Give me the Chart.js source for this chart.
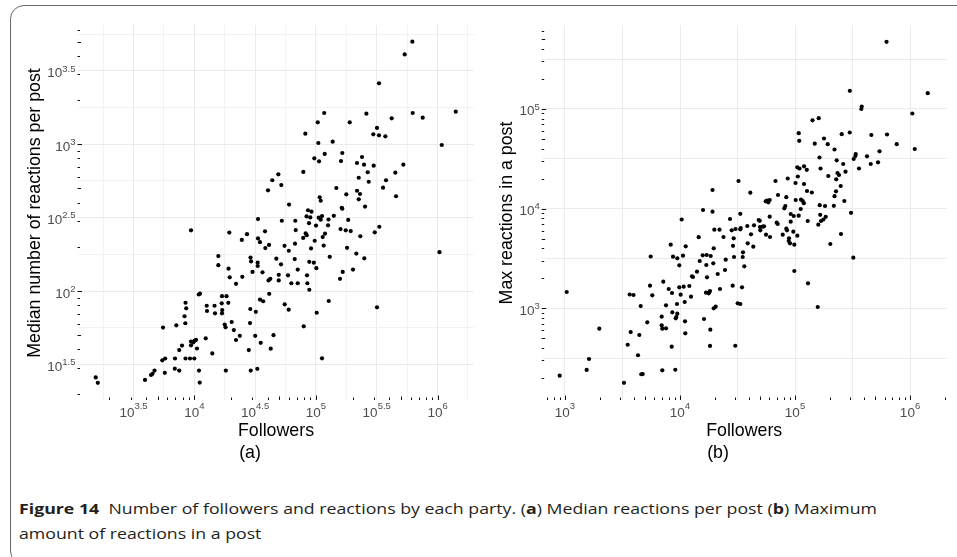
<!DOCTYPE html>
<html>
<head>
<meta charset="utf-8">
<script src="https://cdn.jsdelivr.net/npm/chart.js@4/dist/chart.umd.min.js"></script>
<style>
  html, body { margin:0; padding:0; background:#fff; }
  body { width:957px; height:557px; overflow:hidden; position:relative; font-family:"Liberation Sans", Arial, Helvetica, sans-serif; }
  #frame { position:absolute; left:10px; top:5px; width:990px; height:560px; border:1.5px solid #6a6a6a; border-radius:14px; box-sizing:border-box; }
  canvas { position:absolute; top:0; }
  #chartA { left:0; }
  #chartB { left:480px; }
  .t { position:absolute; white-space:nowrap; color:#000; font-size:17.8px; line-height:20px; height:20px; text-align:center; }
  .ytitle { width:400px; transform:rotate(-90deg); }
  .cap { position:absolute; left:19px; white-space:nowrap; font-family:"Open Sans","Noto Sans",sans-serif; font-size:15px; line-height:18px; color:#231f20; transform-origin:0 50%; }
  .cap b { font-weight:700; }
</style>
</head>
<body>
<div id="frame"></div>
<canvas id="chartA" width="480" height="470"></canvas>
<canvas id="chartB" width="477" height="470"></canvas>
<div class="t ytitle" style="left:-166px; top:202.5px;">Median number of reactions per post</div>
<div class="t ytitle" style="left:305.5px; top:202.5px;">Max reactions in a post</div>
<div class="t" style="left:176px; top:419.5px; width:200px;">Followers</div>
<div class="t" style="left:644.2px; top:419.5px; width:200px;">Followers</div>
<div class="t" style="left:150px; top:442px; width:200px;">(a)</div>
<div class="t" style="left:618px; top:442px; width:200px;">(b)</div>
<div class="cap" id="cap1" style="top:499px;"><b>Figure 14</b>&nbsp;&nbsp;Number of followers and reactions by each party. (<b>a</b>) Median reactions per post (<b>b</b>) Maximum</div>
<div class="cap" id="cap2" style="top:524px;">amount of reactions in a post</div>
<script>
// ---------- Panel (a): median reactions per post ----------
const aFollowers = [
 621000,537000,330000,117000,260000,625000,755000,1413000,420000,103500,
 189700,318000,81850,296500,330000,372400,104700,137400,1083000,97000,
 118100,106050,164800,160800,239300,217800,248700,298700,523500,78760,
 266700,449800,49090,43780,51940,224900,271700,377200,40360,147200,
 177800,217800,230500,356400,456000,107400,224900,109500,60120,163000,
 164800,253500,86100,92000,83750,89950,105400,112200,109500,126900,
 140300,184400,33420,52430,67700,87740,100200,125800,159300,175800,
 193300,332200,304500,9395,19400,38140,68230,82420,84000,118800,
 113700,78610,231800,27130,24580,33420,34680,41150,38370,55180,
 67300,97730,180300,115900,91150,59840,214900,250000,129900,1038000,
 15760,28990,29270,33210,33210,47240,51640,66940,88240,96090,
 100800,201800,166100,157800,84500,15760,19110,19550,22030,24810,
 30100,36380,40760,42170,49450,49450,70850,70850,58950,62770,
 84990,88240,41300,34680,36860,55390,59730,127500,101500,318000,
 28870,32040,10870,11140,8466,8579,8308,8433,7112,5528,
 12650,12720,14660,14800,16900,18400,19040,16800,16960,16900,
 17780,18060,20300,21130,23670,22030,28710,31680,35160,44800,
 42490,28070,29100,32970,112200,79380,18160,14060,12410,9395,
 10040,10330,9813,10520,9395,7921,7513,6938,8466,9218,
 10000,10930,11080,5763,5455,5720,6911,7513,4707,4532,
 4405,3932,1546,1609
];
const aMedianReactions = [
 4990,4090,2600,1631,1614,1631,1515,1665,1500,1410,
 1410,1290,1179,1168,1150,1132,1019,1040,988,801,
 858,765,871,768,818,745,725,714,725,647,
 644,640,624,568,527,591,555,568,485,503,
 456,482,458,506,442,435,421,412,388,369,
 364,376,355,347,322,317,316,324,306,307,
 325,305,309,301,301,290,279,280,264,259,
 256,274,251,259,250,255,260,247,240,246,
 233,230,236,244,223,228,215,206,196,203,
 210,220,197,204,195,188,180,167,171,184,
 173,169,159,156,148,166,152,165,158,156,
 143,140,135,121,128,150,142,124,112,125,
 135,134,118,121,129,118,140,113,128,113,
 113,102,95.7,87.5,85.2,81.2,74.6,85.5,71.1,77.4,
 75.4,72.2,94.7,95.9,83.2,76.2,67.3,60.3,58.4,56.4,
 79.4,73.1,79.4,70.5,92.2,92.2,83.1,82.5,74.2,70.5,
 59.1,56.6,61.5,54.2,49.5,46.4,60.5,49.5,44.4,50.0,
 40.5,39.6,28.7,29.5,34.8,57.5,28.7,37.6,47.6,45.3,
 45.8,46.5,44.7,40.6,42.7,42.5,39.6,34.7,34.7,34.7,
 34.7,28.7,23.8,34.7,33.7,27.7,29.6,28.7,28.7,27.3,
 26.8,24.8,25.8,23.7
];

// ---------- Panel (b): max reactions in a post ----------
const bFollowers = [
 624800,299600,1426000,380200,377200,1047000,141900,160700,107700,108800,
 254700,299000,460800,631000,148400,178700,192500,766200,220600,1099000,
 542900,163300,337300,334400,323900,422700,230400,262500,455300,526900,
 166600,104700,109400,119800,126600,360100,274800,234200,241300,194800,
 228200,32260,67670,101000,119800,249700,86410,105800,19170,40860,
 127200,140000,227300,220600,71160,84000,57070,60260,58580,55630,
 101400,112800,116700,119300,268400,82350,80720,112100,164000,182400,
 217500,15850,19170,33440,60260,27210,48340,49320,91760,97430,
 107700,165600,184900,129000,176300,168300,159400,306900,10340,19880,
 22060,28160,30380,33440,33710,23890,14540,38470,44000,49620,
 52380,53760,49920,69330,70730,78170,84000,85200,91760,96650,
 104700,55960,60610,41430,29310,28900,38780,43390,19640,88670,
 88140,90470,98600,202800,251200,8303,11210,35300,35090,5562,
 8692,10620,9474,15760,17070,18490,29490,14840,19480,24970,
 9861,16930,14050,12720,12970,17170,21270,24620,36230,7158,
 5483,7975,9861,10770,12050,8519,10140,12460,10990,16830,
 17870,18240,17770,22270,28720,34610,3652,3942,5742,4553,
 7555,9417,19640,20430,31750,33440,8572,9474,9285,9176,
 6931,5196,11050,16170,6931,7015,7555,18340,3726,4428,
 11120,1988,3510,8470,18240,30260,1035,4313,1617,1544,
 899,4608,4740,7015,9103,3258,98600,129700,157600,321400
];
const bMaxReactions = [
 471000,151900,143700,105700,99770,89950,76860,80660,57050,47860,
 55750,57980,54710,55370,44770,50470,44260,44260,39150,39600,
 37550,32540,35290,33690,31440,33460,30510,28010,28010,29130,
 25250,25960,25250,26570,24500,25250,23440,22750,21730,21230,
 19670,18910,18910,18060,17650,16850,20040,20990,15370,14430,
 15020,14500,14910,13320,13690,13010,12000,12200,11570,11840,
 12200,12280,11920,11330,11920,10620,10070,9908,10820,10620,
 10670,9683,9309,8867,8296,7865,7686,7544,8827,8430,
 8489,8666,8275,7510,7775,7510,6893,9076,7775,6143,
 6143,6057,6243,6200,6388,5189,5165,6690,6799,6537,
 6583,6644,6057,7222,7007,5472,6286,6057,7391,5866,
 5347,5472,5189,5523,5036,4235,4487,4148,3998,5036,
 4732,4487,4344,4416,5563,4344,4186,3644,3269,3307,
 3292,3369,3173,3400,3424,3346,3269,2981,2827,3072,
 2700,2719,2329,2094,2060,2046,2208,2423,2638,1849,
 1686,1562,1624,1647,1674,1424,1369,1307,1157,1434,
 1447,1491,1414,1562,1686,1624,1375,1360,1350,1054,
 1072,1104,1000,1038,1122,1104,912,883,818,794,
 824,724,741,781,675,624,630,610,578,540,
 561,624,431,412,419,421,1457,338,310,241,
 211,218,219,239,242,179,2367,1781,1030,3217
];

// ---------- Ticks (exponents of 10) ----------
const aXGridExps  = [3.25,3.5,3.75,4,4.25,4.5,4.75,5,5.25,5.5,5.75,6,6.25];
const aYGridExps  = [1.5,1.75,2,2.25,2.5,2.75,3,3.25,3.5,3.75];
const aXTickLabels = [3.5,4,4.5,5,5.5,6];
const aYTickLabels = [1.5,2,2.5,3,3.5];
const bXGridExps  = [3,3.5,4,4.5,5,5.5,6];
const bYGridExps  = [2.5,3,3.5,4,4.5,5,5.5];
const bXTickLabels = [3,4,5,6];
const bYTickLabels = [3,4,5];

const FONT = '"Liberation Sans", Arial, Helvetica, sans-serif';

const decorPlugin = {
  id: 'decor',
  afterDraw(chart, args, opts) {
    const ctx = chart.ctx, ca = chart.chartArea;
    const xs = chart.scales.x, ys = chart.scales.y;
    ctx.save();
    // annotation log ticks
    ctx.strokeStyle = '#111';
    ctx.lineWidth = 1;
    const logTicks = (scale, horiz) => {
      const lo = Math.floor(Math.log10(scale.min)), hi = Math.ceil(Math.log10(scale.max));
      for (let n = lo; n <= hi; n++) {
        for (let k = 1; k <= 9; k++) {
          const v = k * Math.pow(10, n);
          if (v < scale.min || v > scale.max) continue;
          const p = Math.round(scale.getPixelForValue(v)) + 0.5;
          const len = k === 1 ? 4.5 : (k === 5 ? 3.5 : 2.5);
          ctx.beginPath();
          if (horiz) { ctx.moveTo(p, ca.bottom); ctx.lineTo(p, ca.bottom - len); }
          else { ctx.moveTo(ca.left, p); ctx.lineTo(ca.left + len, p); }
          ctx.stroke();
        }
      }
    };
    logTicks(xs, true);
    logTicks(ys, false);
    // tick labels 10^e
    const big = '13.5px ' + FONT, small = '9.5px ' + FONT;
    ctx.fillStyle = '#4d4d4d';
    ctx.textBaseline = 'alphabetic';
    ctx.textAlign = 'left';
    const measure = (e) => {
      ctx.font = big; const w1 = ctx.measureText('10').width;
      ctx.font = small; const w2 = ctx.measureText(String(e)).width;
      return [w1, w2];
    };
    opts.xLabels.forEach(e => {
      const p = xs.getPixelForValue(Math.pow(10, e));
      const [w1, w2] = measure(e);
      const x0 = p - (w1 + w2) / 2;
      ctx.font = big; ctx.fillText('10', x0, ca.bottom + 17.3);
      ctx.font = small; ctx.fillText(String(e), x0 + w1, ca.bottom + 8.8);
    });
    opts.yLabels.forEach(e => {
      const p = ys.getPixelForValue(Math.pow(10, e));
      const [w1, w2] = measure(e);
      const x0 = ca.left - 2 - (w1 + w2);
      ctx.font = big; ctx.fillText('10', x0, p + 6.5);
      ctx.font = small; ctx.fillText(String(e), x0 + w1, p + 0.7);
    });
    ctx.restore();
  }
};

function isMajor(v) {
  const l = Math.log10(v) * 2;
  return Math.abs(l - Math.round(l)) < 1e-6;
}

function makeChart(id, xs, ys, cfg) {
  const pts = xs.map((x, i) => ({ x: x, y: ys[i] }));
  const gridColor = ctx => (ctx.tick && isMajor(ctx.tick.value)) ? '#ebebeb' : '#f2f2f2';
  return new Chart(document.getElementById(id), {
    type: 'scatter',
    data: { datasets: [{ data: pts, backgroundColor: '#000', borderWidth: 0, pointRadius: 2.1, pointHoverRadius: 2.1 }] },
    options: {
      responsive: false, animation: false, devicePixelRatio: 1,
      events: [],
      layout: { padding: cfg.pad },
      plugins: { legend: { display: false }, tooltip: { enabled: false }, decor: { xLabels: cfg.xLabels, yLabels: cfg.yLabels } },
      scales: {
        x: {
          type: 'logarithmic', min: cfg.xmin, max: cfg.xmax,
          afterBuildTicks: s => { s.ticks = cfg.xGrid.map(e => ({ value: Math.pow(10, e) })); },
          ticks: { display: false },
          grid: { drawTicks: false, color: gridColor, lineWidth: 1 },
          border: { display: false }
        },
        y: {
          type: 'logarithmic', min: cfg.ymin, max: cfg.ymax,
          afterBuildTicks: s => { s.ticks = cfg.yGrid.map(e => ({ value: Math.pow(10, e) })); },
          ticks: { display: false },
          grid: { drawTicks: false, color: gridColor, lineWidth: 1 },
          border: { display: false }
        }
      }
    },
    plugins: [decorPlugin]
  });
}

makeChart('chartA', aFollowers, aMedianReactions, {
  pad: { left: 77.5, right: 6, top: 25, bottom: 70 },
  xmin: 1095, xmax: 1995000, ymin: 18.1, ymax: 6486,
  xGrid: aXGridExps, yGrid: aYGridExps, xLabels: aXTickLabels, yLabels: aYTickLabels
});
makeChart('chartB', bFollowers, bMaxReactions, {
  pad: { left: 61.7, right: 10.3, top: 25, bottom: 70 },
  xmin: 627.3, xmax: 2084000, ymin: 120.3, ymax: 694300,
  xGrid: bXGridExps, yGrid: bYGridExps, xLabels: bXTickLabels, yLabels: bYTickLabels
});

// caption width fit
function fitCaption() {
  const l1 = document.getElementById('cap1'), l2 = document.getElementById('cap2');
  l1.style.transform = l2.style.transform = 'none';
  const w = l1.getBoundingClientRect().width;
  const s = 858 / w;
  l1.style.transform = l2.style.transform = 'scaleX(' + s + ')';
}
fitCaption();
if (document.fonts && document.fonts.ready) document.fonts.ready.then(fitCaption);
</script>
</body>
</html>
